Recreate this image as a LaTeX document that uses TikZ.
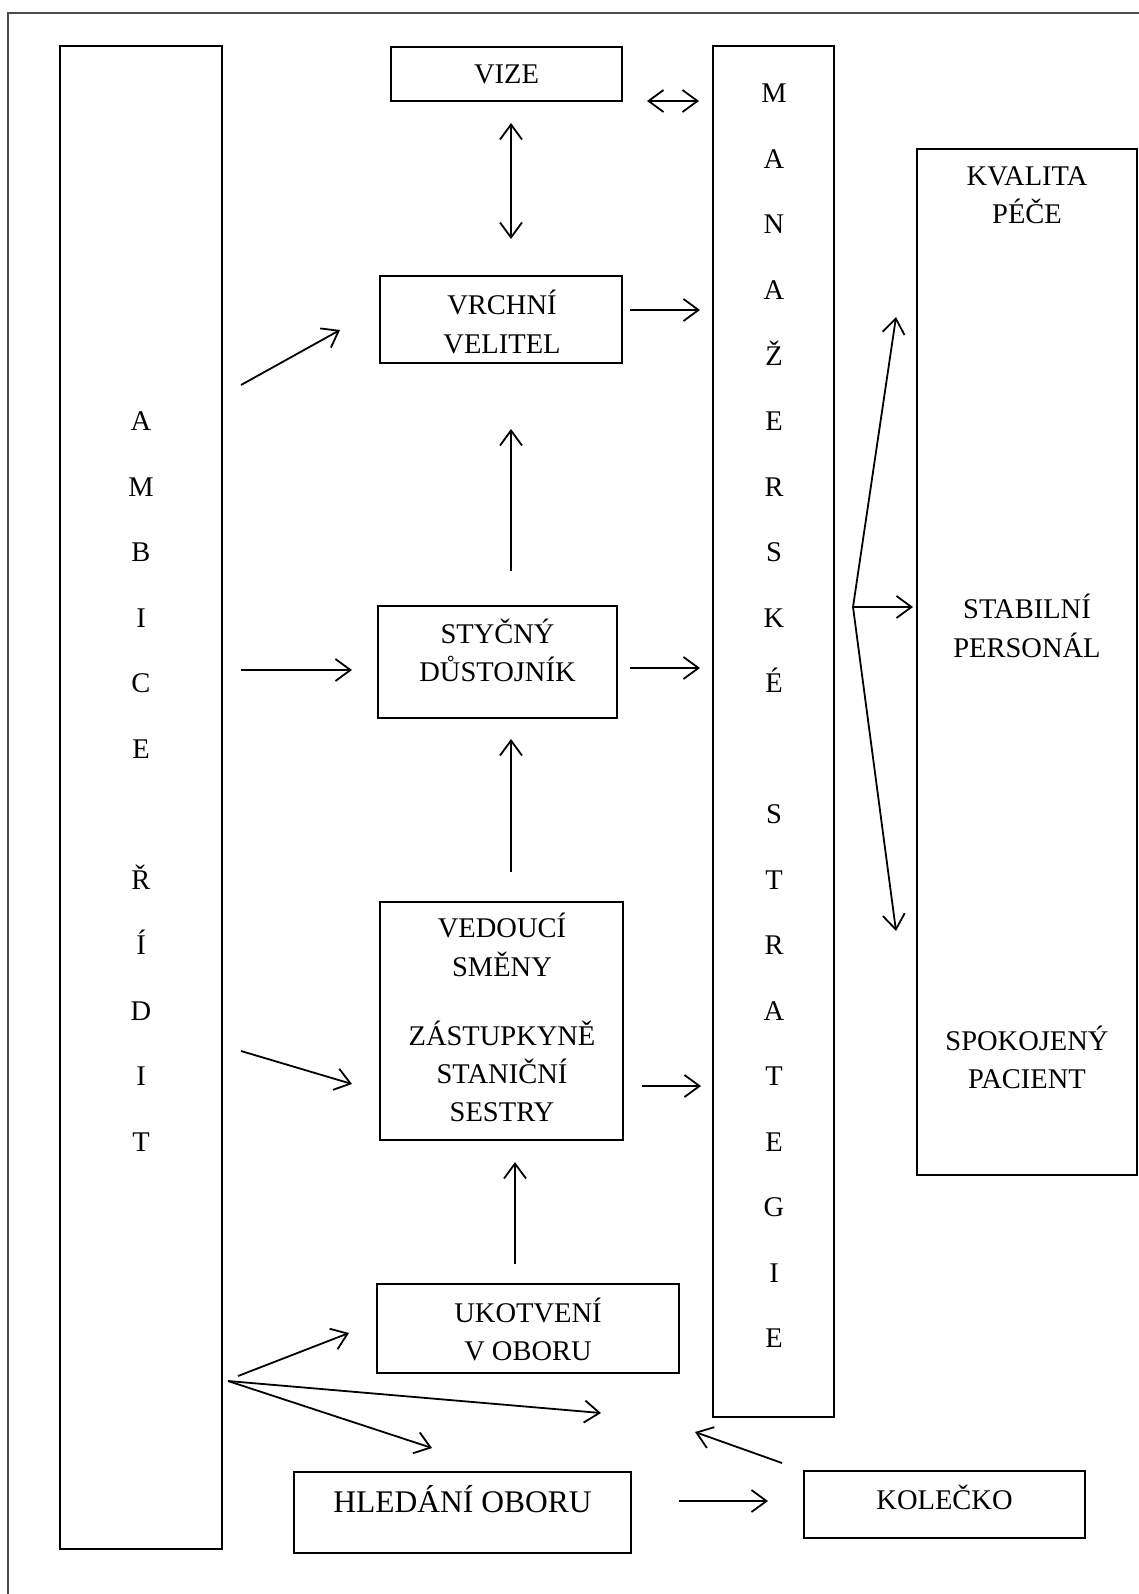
\documentclass[tikz,border=0pt]{standalone}
\usepackage{fontspec}
\setmainfont{Liberation Serif}
\usetikzlibrary{arrows.meta}
\begin{document}
\begin{tikzpicture}[x=1pt,y=-1pt,
  >={Straight Barb[length=15pt,width=22pt]},
  box/.style={draw,line width=1.8pt,inner sep=0pt,rectangle},
  lbl/.style={anchor=base,inner sep=0pt,font=\fontsize{28.5}{34}\selectfont},
  biglbl/.style={lbl,font=\fontsize{31.5}{38}\selectfont},
  arr/.style={line width=1.8pt,->},
  darr/.style={line width=1.8pt,<->}]
\useasboundingbox (0,0) rectangle (1139,1594);
% page frame (open to the right and bottom)
\draw[line width=1.3pt,black!70] (1145,13) -- (8,13) -- (8,1600);

% boxes
\node[box,minimum width=162pt,minimum height=1503pt] (ambice) at (141,797.5) {};
\node[box,minimum width=231pt,minimum height=54pt] (vize) at (506.5,74) {};
\node[box,minimum width=121pt,minimum height=1371pt] (manaz) at (773.5,731.5) {};
\node[box,minimum width=242pt,minimum height=87pt] (vrchni) at (501,319.5) {};
\node[box,minimum width=239pt,minimum height=112pt] (stycny) at (497.5,662) {};
\node[box,minimum width=243pt,minimum height=238pt] (vedouci) at (501.5,1021) {};
\node[box,minimum width=302pt,minimum height=89pt] (ukotveni) at (528,1328.5) {};
\node[box,minimum width=337pt,minimum height=81pt] (hledani) at (462.5,1512.5) {};
\node[box,minimum width=281pt,minimum height=67pt] (kolecko) at (944.5,1504.5) {};
\node[box,minimum width=220pt,minimum height=1026pt] (kvalita) at (1027,662) {};

% vertical lettering
\foreach \ch/\k in {A/5,M/6,B/7,I/8,C/9,E/10,Ř/12,Í/13,D/14,I/15,T/16}
  \node[lbl] (amb\k) at (141,103+65.5*\k) {\ch};
\foreach \ch/\k in {M/0,A/1,N/2,A/3,Ž/4,E/5,R/6,S/7,K/8,É/9,S/11,T/12,R/13,A/14,T/15,E/16,G/17,I/18,E/19}
  \node[lbl] (ms\k) at (774,103+65.5*\k) {\ch};

% box texts
\node[lbl] (tvize) at (506.5,84) {VIZE};
\node[lbl] (tvr1) at (502,314) {VRCHNÍ};
\node[lbl] (tvr2) at (502,353) {VELITEL};
\node[lbl] (tst1) at (497.5,643) {STYČNÝ};
\node[lbl] (tst2) at (497.5,681) {DŮSTOJNÍK};
\node[lbl] (tve1) at (502,937) {VEDOUCÍ};
\node[lbl] (tve2) at (502,976) {SMĚNY};
\node[lbl] (tve3) at (502,1045) {ZÁSTUPKYNĚ};
\node[lbl] (tve4) at (502,1083) {STANIČNÍ};
\node[lbl] (tve5) at (502,1121) {SESTRY};
\node[lbl] (tuk1) at (528,1322) {UKOTVENÍ};
\node[lbl] (tuk2) at (528,1360) {V OBORU};
\node[biglbl] (thl) at (462.5,1512) {HLEDÁNÍ OBORU};
\node[lbl] (tko) at (944.5,1509) {KOLEČKO};
\node[lbl] (tkv1) at (1027,186) {KVALITA};
\node[lbl] (tkv2) at (1027,224) {PÉČE};
\node[lbl] (tkv3) at (1027,618) {STABILNÍ};
\node[lbl] (tkv4) at (1027,657) {PERSONÁL};
\node[lbl] (tkv5) at (1027,1050) {SPOKOJENÝ};
\node[lbl] (tkv6) at (1027,1088) {PACIENT};

% connector end points
\coordinate (vizeR) at (647,101);   \coordinate (manV) at (699,101);
\coordinate (vizeB) at (511,123);   \coordinate (vrT) at (511,239);
\coordinate (vrR) at (630,310);     \coordinate (manVr) at (700,310);
\coordinate (ambVr) at (241,385);   \coordinate (vrL) at (340,330);
\coordinate (stT) at (511,571);     \coordinate (vrB) at (511,429);
\coordinate (ambSt) at (241,670);   \coordinate (stL) at (352,670);
\coordinate (stR) at (630,668);     \coordinate (manSt) at (700,668);
\coordinate (veT) at (511,872);     \coordinate (stB) at (511,739);
\coordinate (ambVe) at (241,1051);  \coordinate (veL) at (352,1084);
\coordinate (veR) at (642,1086);    \coordinate (manVe) at (701,1086);
\coordinate (ukT) at (515,1264);    \coordinate (veB) at (515,1162);
\coordinate (split) at (228,1381);  \coordinate (ambUk) at (238,1376);
\coordinate (ukL) at (349,1333);    \coordinate (gap) at (601,1413);
\coordinate (hlT) at (432,1448);
\coordinate (koT) at (782,1463);    \coordinate (manB) at (695,1432);
\coordinate (hlR) at (679,1501);    \coordinate (koL) at (768,1501);
\coordinate (fan) at (853,607);
\coordinate (kvUp) at (896,317);    \coordinate (kvMid) at (913,607);
\coordinate (kvDn) at (896,931);

% connectors
\draw[darr] (vizeR) -- (manV);
\draw[darr] (vizeB) -- (vrT);
\draw[arr] (vrR) -- (manVr);
\draw[arr] (ambVr) -- (vrL);
\draw[arr] (stT) -- (vrB);
\draw[arr] (ambSt) -- (stL);
\draw[arr] (stR) -- (manSt);
\draw[arr] (veT) -- (stB);
\draw[arr] (ambVe) -- (veL);
\draw[arr] (veR) -- (manVe);
\draw[arr] (ukT) -- (veB);
\draw[arr] (ambUk) -- (ukL);
\draw[arr] (split) -- (gap);
\draw[arr] (split) -- (hlT);
\draw[arr] (koT) -- (manB);
\draw[arr] (hlR) -- (koL);
\draw[arr] (fan) -- (kvUp);
\draw[arr] (fan) -- (kvMid);
\draw[arr] (fan) -- (kvDn);
\end{tikzpicture}
\end{document}
